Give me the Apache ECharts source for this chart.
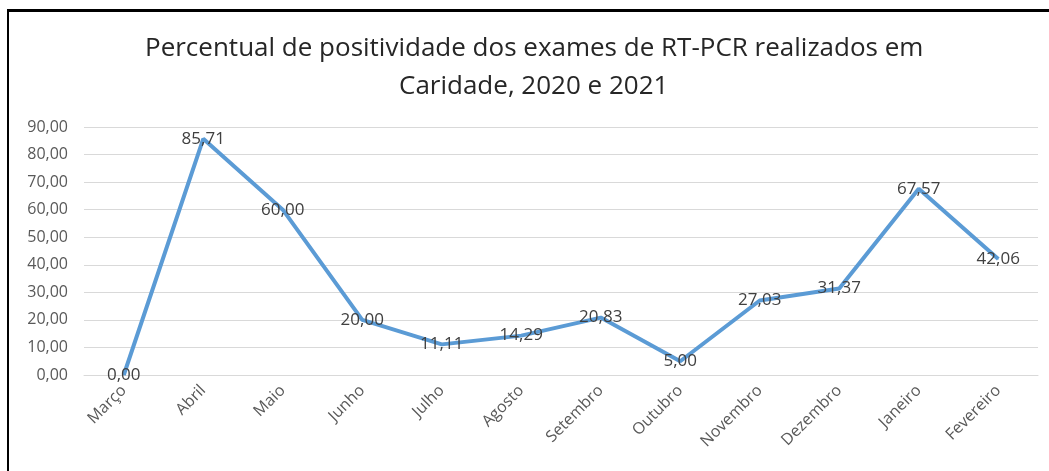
<!DOCTYPE html>
<html>
<head>
<meta charset="utf-8">
<script src="https://cdn.jsdelivr.net/npm/echarts@6/dist/echarts.min.js"></script>
<style>
  html, body { margin: 0; padding: 0; background: #fff; }
  #frame { position: absolute; left: 7px; top: 9px; width: 1042px; height: 462px;
           border-left: 2px solid #000; border-top: 3px solid #000; }
  #main { position: absolute; left: 0; top: 0; width: 1049px; height: 471px; }
</style>
</head>
<body>
<div id="frame"></div>
<div id="main"></div>
<script>
var meses = ['Março', 'Abril', 'Maio', 'Junho', 'Julho', 'Agosto', 'Setembro', 'Outubro', 'Novembro', 'Dezembro', 'Janeiro', 'Fevereiro'];
var positividade = [0.00, 85.71, 60.00, 20.00, 11.11, 14.29, 20.83, 5.00, 27.03, 31.37, 67.57, 42.06];
var titulo = ['Percentual de positividade dos exames de RT-PCR realizados em', 'Caridade, 2020 e 2021'];

function virgula(v) {
    return Number(v).toFixed(2).replace('.', ',');
}

var estiloTitulo = {
    fontFamily: 'Open Sans',
    fontSize: 26,
    fontWeight: 'normal',
    color: '#262626',
    lineHeight: 37
};

var chart = echarts.init(document.getElementById('main'));
var option = {
    backgroundColor: 'transparent',
    title: [
        { text: titulo[0], left: 145, top: 30, padding: 0, textStyle: estiloTitulo },
        { text: titulo[1], left: 399, top: 68, padding: 0, textStyle: estiloTitulo }
    ],
    grid: {
        left: 84,
        right: 11,
        top: 127,
        bottom: 96
    },
    xAxis: {
        type: 'category',
        data: meses,
        boundaryGap: true,
        axisLine: { lineStyle: { color: '#d9d9d9' } },
        axisTick: { show: false },
        axisLabel: {
            rotate: 45,
            margin: 13,
            fontFamily: 'Open Sans',
            fontSize: 16,
            color: '#595959'
        }
    },
    yAxis: {
        type: 'value',
        min: 0,
        max: 90,
        interval: 10,
        axisLine: { show: false },
        axisTick: { show: false },
        splitLine: { lineStyle: { color: '#d9d9d9', width: 1 } },
        axisLabel: {
            margin: 16,
            fontFamily: 'Open Sans',
            fontSize: 16,
            color: '#595959',
            formatter: virgula
        }
    },
    series: [
        {
            type: 'line',
            data: positividade,
            symbol: 'circle',
            symbolSize: 1,
            lineStyle: { color: '#5b9bd5', width: 4 },
            itemStyle: { color: '#5b9bd5' },
            label: {
                show: true,
                position: 'inside',
                fontFamily: 'Open Sans',
                fontSize: 17,
                color: '#404040',
                formatter: function (p) { return virgula(p.value); }
            }
        }
    ]
};
chart.setOption(option);
</script>
</body>
</html>
